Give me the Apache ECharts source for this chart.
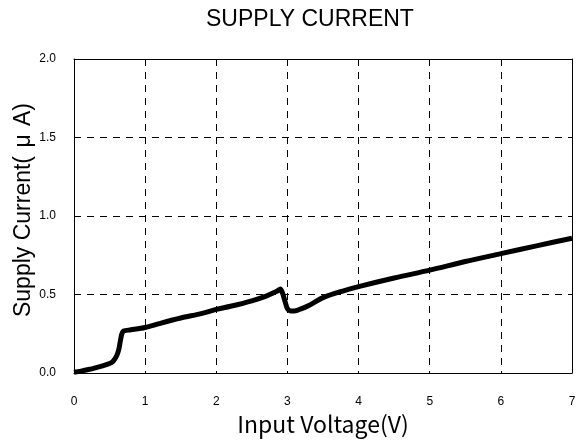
<!DOCTYPE html>
<html>
<head>
<meta charset="utf-8">
<script src="https://cdn.jsdelivr.net/npm/echarts@6/dist/echarts.min.js"></script>
<style>
html,body{margin:0;padding:0;background:#fff;}
#c{width:588px;height:440px;}
</style>
</head>
<body>
<div id="c"></div>
<script>
// Input voltage (V)
var voltage = [0, 0.1, 0.2, 0.3, 0.4, 0.5, 0.55, 0.6, 0.63, 0.65, 0.67, 0.69, 0.72, 0.8, 1.0, 1.2, 1.5, 1.8, 2.0, 2.2, 2.5, 2.7, 2.85, 2.9, 2.93, 2.97, 3.0, 3.05, 3.1, 3.2, 3.3, 3.5, 3.8, 4.0, 4.5, 5.0, 5.5, 6.0, 6.5, 7.0];
// Supply current (uA)
var current = [0.005, 0.012, 0.022, 0.033, 0.045, 0.06, 0.075, 0.11, 0.15, 0.2, 0.245, 0.265, 0.27, 0.275, 0.29, 0.315, 0.35, 0.38, 0.405, 0.425, 0.46, 0.49, 0.52, 0.535, 0.51, 0.45, 0.41, 0.395, 0.395, 0.41, 0.43, 0.48, 0.525, 0.55, 0.605, 0.655, 0.71, 0.76, 0.81, 0.858];
var xTicks = [0, 1, 2, 3, 4, 5, 6, 7];
var yTicks = [0.0, 0.5, 1.0, 1.5, 2.0];

var pts = voltage.map(function (v, i) { return [v, current[i]]; });
var chart = echarts.init(document.getElementById('c'), null, {renderer: 'canvas'});
var dash = {color: '#000', width: 1, type: [7, 6]};
chart.setOption({
  animation: false,
  backgroundColor: '#fff',
  title: {
    text: 'SUPPLY CURRENT',
    left: 201, top: 3,
    textStyle: {fontFamily: 'Liberation Sans', fontSize: 23, fontWeight: 'normal', color: '#000'}
  },
  grid: {left: 74, right: 16, top: 59, bottom: 67, show: false, containLabel: false, outerBoundsMode: 'none'},
  graphic: [{
    type: 'text', x: 24, y: 210, rotation: Math.PI / 2,
    style: {
      text: '{a|Supply Current(}{m|μ}{a|A)}',
      align: 'center', verticalAlign: 'middle',
      font: '23px "Liberation Sans"', fill: '#000',
      rich: {
        a: {fontFamily: 'Liberation Sans', fontSize: 23, fill: '#000'},
        m: {fontFamily: 'Liberation Sans', fontSize: 23, fill: '#000', width: 30, align: 'center'}
      }
    }
  }],
  xAxis: [{
    type: 'value', min: xTicks[0], max: xTicks[xTicks.length - 1], interval: 1,
    name: 'Input Voltage(V)', nameLocation: 'middle', nameGap: 32,
    nameTextStyle: {fontFamily: 'Noto Sans CJK JP', fontSize: 23, color: '#000'},
    axisLine: {show: true, lineStyle: {color: '#000', width: 1}},
    axisTick: {show: false},
    axisLabel: {margin: 23, fontFamily: 'Liberation Sans', fontSize: 12, color: '#000'},
    splitLine: {show: true, lineStyle: dash}
  }, {
    type: 'value', position: 'top', min: 0, max: 7, interval: 1,
    axisLine: {show: true, onZero: false, lineStyle: {color: '#000', width: 1}},
    axisTick: {show: false}, axisLabel: {show: false}, splitLine: {show: false}
  }],
  yAxis: [{
    type: 'value', min: yTicks[0], max: yTicks[yTicks.length - 1], interval: 0.5,
    axisLine: {show: true, lineStyle: {color: '#000', width: 1}},
    axisTick: {show: false},
    axisLabel: {margin: 18, fontFamily: 'Liberation Sans', fontSize: 12, color: '#000',
      formatter: function (v) { return v.toFixed(1); }},
    splitLine: {show: true, lineStyle: dash}
  }, {
    type: 'value', position: 'right', min: 0, max: 2, interval: 0.5,
    axisLine: {show: true, onZero: false, lineStyle: {color: '#000', width: 1}},
    axisTick: {show: false}, axisLabel: {show: false}, splitLine: {show: false}
  }],
  series: [{
    type: 'line', data: pts, xAxisIndex: 0, yAxisIndex: 0,
    showSymbol: false, smooth: 0.3, clip: false,
    lineStyle: {color: '#000', width: 5}
  }]
});
</script>
</body>
</html>
